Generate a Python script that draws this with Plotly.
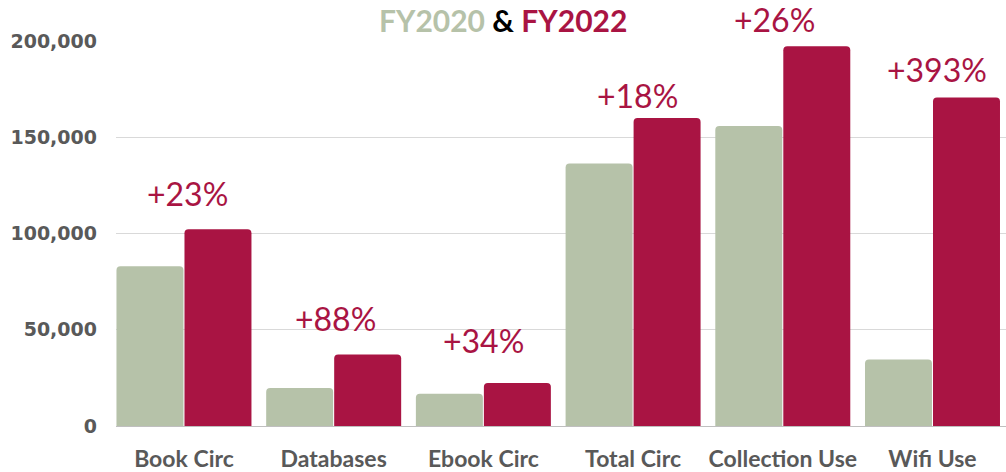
import plotly.graph_objects as go

categories = ["Book Circ", "Databases", "Ebook Circ", "Total Circ", "Collection Use", "Wifi Use"]
fy2020 = [83000, 19700, 16700, 136300, 155900, 34600]
fy2022 = [102200, 37100, 22400, 160000, 197300, 170600]
change_labels = ["+23%", "+88%", "+34%", "+18%", "+26%", "+393%"]
y_ticks = [0, 50000, 100000, 150000, 200000]

# pixel nudges for the change labels (style only)
label_yshift = [36, 36, 42, 23, 27, 28]
label_xshift = [4, 2, 0, 4, -8, 5]

SAGE = "#b6c2a9"
CRIMSON = "#a91443"
GRAY = "#595959"

fig = go.Figure()
fig.add_trace(go.Bar(x=categories, y=fy2020, name="FY2020", marker_color=SAGE,
                     marker_line_width=0))
fig.add_trace(go.Bar(x=categories, y=fy2022, name="FY2022", marker_color=CRIMSON,
                     marker_line_width=0))

for i, (c, v, t) in enumerate(zip(categories, fy2022, change_labels)):
    fig.add_annotation(x=c, y=v, text=t, showarrow=False, yanchor="middle",
                       xanchor="center", yshift=label_yshift[i], xshift=label_xshift[i],
                       font=dict(family="Lato", size=32, color=CRIMSON))

fig.add_annotation(
    xref="paper", yref="paper", x=(503 - 116) / 890, y=1, yshift=21,
    xanchor="center", yanchor="middle", showarrow=False,
    text=f"<span style='color:{SAGE}'>FY2020</span> <span style='color:#000000'>&amp;</span> "
         f"<span style='color:{CRIMSON}'>FY2022</span>",
    font=dict(family="Lato", size=30, weight="bold"),
)

fig.update_layout(
    width=1006, height=472,
    margin=dict(l=116, r=0, t=41, b=42),
    plot_bgcolor="white", paper_bgcolor="white",
    barmode="group", bargap=0.0915, bargroupgap=0.015,
    barcornerradius=4,
    showlegend=False,
    xaxis=dict(range=[-0.454, 5.491], showgrid=False, showline=True,
               linecolor="#bfbfbf", linewidth=1, ticks="",
               tickfont=dict(family="Lato", size=23, color=GRAY, weight="bold"),
               ticklabelstandoff=12),
    yaxis=dict(range=[0, 200000], tickvals=y_ticks, tickformat=",",
               showgrid=True, gridcolor="#d9d9d9", gridwidth=1,
               zeroline=False, showline=False, ticks="",
               tickfont=dict(family="DejaVu Sans", size=19, color=GRAY, weight="bold"),
               ticklabelstandoff=18),
)

fig.write_html("out.html", config={"displayModeBar": False},
               post_script="document.body.style.margin='0';document.body.style.overflow='hidden';")
